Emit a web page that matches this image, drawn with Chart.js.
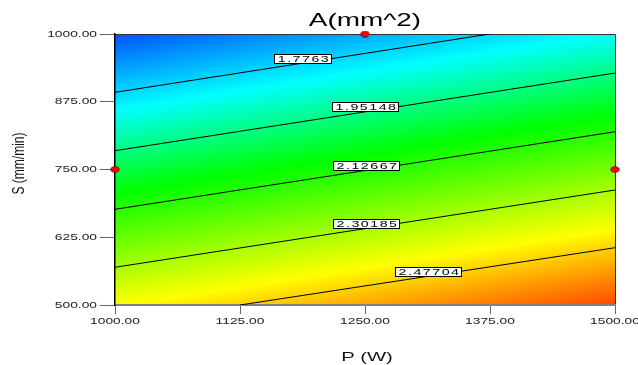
<!DOCTYPE html>
<html><head><meta charset="utf-8">
<script src="https://cdn.jsdelivr.net/npm/chart.js@4.4.1/dist/chart.umd.min.js"></script>
<style>html,body{margin:0;padding:0;background:#fff;} #wrap{width:638px;height:365px;position:relative;}</style>
</head><body><div id="wrap"><canvas id="c"></canvas></div>
<script>
const titleText = 'A(mm^2)';
const xTitle = 'P (W)';
const yTitle = 'S (mm/min)';
const xTicks = [1000, 1125, 1250, 1375, 1500];
const yTicks = [500, 625, 750, 875, 1000];
const contourLevels = [1.7763, 1.95148, 2.12667, 2.30185, 2.47704];
const contourLabels = ['1.7763', '1.95148', '2.12667', '2.30185', '2.47704'];
const contourStartP = [1000, 1000, 1000, 1000, 1125];
const contourStartS = [892.4, 784.7, 676.6, 569.6, 500];
const contourEndP = [1374.7, 1500, 1500, 1500, 1500];
const contourEndS = [1000, 928.0, 819.7, 712.2, 605.7];
const labelAnchorP = [1216, 1283, 1284, 1284, 1346];
const designP = [1250, 1000, 1500];
const designS = [1000, 750, 750];
const colorLevels = [1.49, 1.83, 2.08, 2.42, 2.74];
const colorRamp = ['#0000ff', '#00ffff', '#00ff00', '#ffff00', '#ff0000'];

const FONT = '"Liberation Sans", Arial, sans-serif';

// red ellipse marker
const dot = document.createElement('canvas');
dot.width = 10; dot.height = 7;
(function(){ const d = dot.getContext('2d'); d.beginPath(); d.ellipse(5, 3.5, 4.2, 2.8, 0, 0, Math.PI*2);
  d.fillStyle = '#ff0000'; d.fill(); d.strokeStyle = '#700000'; d.lineWidth = 0.8; d.stroke(); })();

// horizontally stretched text (as in the reference) : applied right after Chart.js rotates each text
function wrapStretch(chart, obj, name, sx, sy, shift){
  if (!obj || obj['_ws_' + name]) return;
  const orig = obj[name];
  obj[name] = function(...a){
    const c = chart.ctx;
    const origRotate = c.rotate;
    c.rotate = function(r){ origRotate.call(this, r); this.translate(shift || 0, 0); this.scale(sx, sy); };
    let r;
    try { r = orig.apply(this, a); } finally { c.rotate = origRotate; }
    return r;
  };
  obj['_ws_' + name] = true;
}

const surfacePlugin = {
  id: 'surface',
  beforeDraw(chart){
    const ctx = chart.ctx, xs = chart.scales.x, ys = chart.scales.y, ca = chart.chartArea;
    wrapStretch(chart, xs, 'drawLabels', 1.45, 1, 0);
    wrapStretch(chart, ys, 'drawLabels', 1.45, 1, 0);
    wrapStretch(chart, xs, 'drawTitle', 1.5, 1, 2);
    wrapStretch(chart, ys, 'drawTitle', 1, 1.3, 6);
    wrapStretch(chart, chart.titleBlock, 'draw', 1.55, 1, 0);
    // least-squares linear field in pixel space from the contour lines
    const pts = [];
    contourLevels.forEach((v, i) => {
      pts.push([xs.getPixelForValue(contourStartP[i]), ys.getPixelForValue(contourStartS[i]), v]);
      pts.push([xs.getPixelForValue(contourEndP[i]), ys.getPixelForValue(contourEndS[i]), v]);
    });
    let n=0,sx=0,sy=0,sxx=0,syy=0,sxy=0,sv=0,sxv=0,syv=0;
    pts.forEach(([x,y,v]) => { n++; sx+=x; sy+=y; sxx+=x*x; syy+=y*y; sxy+=x*y; sv+=v; sxv+=x*v; syv+=y*v; });
    const M = [[n,sx,sy],[sx,sxx,sxy],[sy,sxy,syy]], B = [sv,sxv,syv];
    const det = m => m[0][0]*(m[1][1]*m[2][2]-m[1][2]*m[2][1]) - m[0][1]*(m[1][0]*m[2][2]-m[1][2]*m[2][0]) + m[0][2]*(m[1][0]*m[2][1]-m[1][1]*m[2][0]);
    const D = det(M);
    const sol = [0,1,2].map(k => det(M.map((row, r) => row.map((val, c) => c === k ? B[r] : val))) / D);
    const [a, bx, by] = sol;
    const g2 = bx*bx + by*by;
    const cx = (ca.left + ca.right)/2, cy = (ca.top + ca.bottom)/2;
    const vo = a + bx*cx + by*cy;
    const pAt = v => ({x: cx + (v - vo)*bx/g2, y: cy + (v - vo)*by/g2});
    const v0 = colorLevels[0], vN = colorLevels[colorLevels.length-1];
    const p0 = pAt(v0), p1 = pAt(vN);
    const grad = ctx.createLinearGradient(p0.x, p0.y, p1.x, p1.y);
    colorLevels.forEach((v, i) => grad.addColorStop((v - v0)/(vN - v0), colorRamp[i]));
    ctx.save();
    ctx.fillStyle = grad;
    ctx.fillRect(ca.left, ca.top, ca.right - ca.left, ca.bottom - ca.top);
    ctx.strokeStyle = '#333'; ctx.lineWidth = 1;
    ctx.beginPath();
    ctx.moveTo(ca.left, ca.top + 0.5); ctx.lineTo(ca.right + 0.5, ca.top + 0.5); ctx.lineTo(ca.right + 0.5, ca.bottom);
    ctx.stroke();
    ctx.restore();
  },
  afterDatasetsDraw(chart){
    const ctx = chart.ctx, xs = chart.scales.x, ys = chart.scales.y;
    ctx.save();
    ctx.font = '9.5px ' + FONT;
    ctx.letterSpacing = '1px';
    const stretch = 1.5;
    contourLabels.forEach((txt, i) => {
      const x0 = xs.getPixelForValue(contourStartP[i]), y0 = ys.getPixelForValue(contourStartS[i]);
      const x1 = xs.getPixelForValue(contourEndP[i]), y1 = ys.getPixelForValue(contourEndS[i]);
      const ax = xs.getPixelForValue(labelAnchorP[i]);
      const ay = y0 + (y1 - y0)*(ax - x0)/(x1 - x0);
      const tw = ctx.measureText(txt).width*stretch;
      const w = Math.round(tw + 4), h = 9;
      const left = Math.round(ax - w) + 0.5, top = Math.round(ay - h/2) + 0.5;
      ctx.fillStyle = '#fff'; ctx.fillRect(left, top, w, h);
      ctx.strokeStyle = '#000'; ctx.lineWidth = 1; ctx.strokeRect(left, top, w, h);
      ctx.save();
      ctx.translate(left + w/2 + 1, top + h/2 + 0.5);
      ctx.scale(stretch, 1);
      ctx.fillStyle = '#000'; ctx.textAlign = 'center'; ctx.textBaseline = 'middle';
      ctx.fillText(txt, 0, 0);
      ctx.restore();
    });
    ctx.restore();
  }
};

const datasets = contourLevels.map((lv, i) => ({
  label: contourLabels[i],
  data: [{x: contourStartP[i], y: contourStartS[i]}, {x: contourEndP[i], y: contourEndS[i]}],
  showLine: true, borderColor: '#000', borderWidth: 1, pointRadius: 0, fill: false
}));
datasets.push({
  label: 'design',
  data: designP.map((p, i) => ({x: p, y: designS[i]})),
  showLine: false, pointStyle: dot, pointRadius: 4, clip: false
});

new Chart(document.getElementById('c'), {
  type: 'scatter',
  data: {datasets},
  options: {
    responsive: true, maintainAspectRatio: false, animation: false, events: [],
    layout: {padding: {left: 0, right: 23, top: 0, bottom: 0}},
    plugins: {
      legend: {display: false}, tooltip: {enabled: false},
      title: {display: true, text: titleText, fullSize: false, color: '#000',
        font: {family: FONT, size: 18, weight: 'normal', lineHeight: 1.2}, padding: {top: 10.7, bottom: 1.7}}
    },
    scales: {
      x: {
        type: 'linear', min: 1000, max: 1500,
        afterBuildTicks: s => { s.ticks = xTicks.map(v => ({value: v})); },
        afterFit: s => { s.height = 60; },
        ticks: {callback: v => Number(v).toFixed(2), font: {family: FONT, size: 9.5}, color: '#222', padding: 2, maxRotation: 0, autoSkip: false},
        grid: {drawOnChartArea: false, tickLength: 9, tickColor: '#666', color: '#666'},
        border: {color: '#808080', width: 2},
        title: {display: true, text: xTitle, color: '#111', font: {family: FONT, size: 13.5, lineHeight: 1.2}, padding: {top: 0, bottom: 0}}
      },
      y: {
        type: 'linear', min: 500, max: 1000,
        afterBuildTicks: s => { s.ticks = yTicks.map(v => ({value: v})); },
        afterFit: s => { s.width = 115; },
        ticks: {callback: v => Number(v).toFixed(2), font: {family: FONT, size: 9.5}, color: '#222', padding: 3, autoSkip: false},
        grid: {drawOnChartArea: false, tickLength: 15, tickColor: '#666', color: '#666'},
        border: {color: '#000', width: 1.5},
        title: {display: true, text: yTitle, color: '#111', font: {family: FONT, size: 12, lineHeight: 1.2}, padding: {top: 12, bottom: 0}}
      }
    }
  },
  plugins: [surfacePlugin]
});
</script>
</body></html>
